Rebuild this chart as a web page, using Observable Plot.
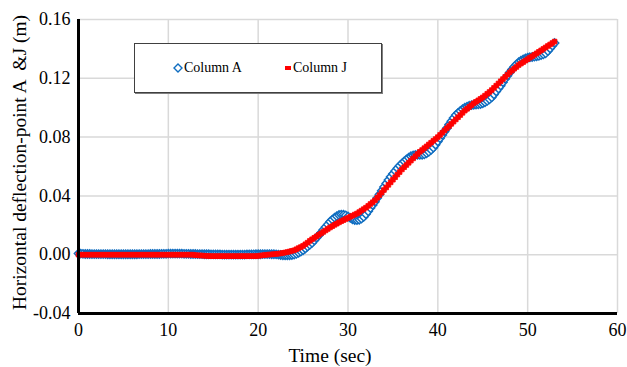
<!DOCTYPE html>
<html>
<head>
<meta charset="utf-8">
<script src="https://cdn.jsdelivr.net/npm/d3@7"></script>
<script src="https://cdn.jsdelivr.net/npm/@observablehq/plot@0.6"></script>
<style>
  html, body { margin: 0; padding: 0; background: #fff; }
  #wrap { position: relative; width: 627px; height: 367px; font-family: "Liberation Serif", "Times New Roman", serif; }
  #legend { position: absolute; left: 134px; top: 43px; width: 246px; height: 48px; border: 1px solid #404040;
            box-shadow: 1px 1px 0 #7f7f7f; background: #fff; font-size: 14px; color: #000; }
  .item { position: absolute; top: 16px; white-space: nowrap; line-height: 16px; }
  .item svg { vertical-align: -1px; margin-right: 1px; }
</style>
</head>
<body>
<div id="wrap"></div>
<script>
// ---- data ----
const seriesNames = ["Column A", "Column J"];
const xTicks = [0, 10, 20, 30, 40, 50, 60];
const yTicks = [-0.04, 0.00, 0.04, 0.08, 0.12, 0.16];

const time = [
0,0.25,0.5,0.75, 1,1.25,1.5,1.75, 2,2.25,2.5,2.75, 3,3.25,3.5,3.75, 4,4.25,4.5,4.75,
5,5.25,5.5,5.75, 6,6.25,6.5,6.75, 7,7.25,7.5,7.75, 8,8.25,8.5,8.75, 9,9.25,9.5,9.75,
10,10.25,10.5,10.75, 11,11.25,11.5,11.75, 12,12.25,12.5,12.75, 13,13.25,13.5,13.75, 14,14.25,14.5,14.75,
15,15.25,15.5,15.75, 16,16.25,16.5,16.75, 17,17.25,17.5,17.75, 18,18.25,18.5,18.75, 19,19.25,19.5,19.75,
20,20.25,20.5,20.75, 21,21.25,21.5,21.75, 22,22.25,22.5,22.75, 23,23.25,23.5,23.75, 24,24.25,24.5,24.75,
25,25.25,25.5,25.75, 26,26.25,26.5,26.75, 27,27.25,27.5,27.75, 28,28.25,28.5,28.75, 29,29.25,29.5,29.75,
30,30.25,30.5,30.75, 31,31.25,31.5,31.75, 32,32.25,32.5,32.75, 33,33.25,33.5,33.75, 34,34.25,34.5,34.75,
35,35.25,35.5,35.75, 36,36.25,36.5,36.75, 37,37.25,37.5,37.75, 38,38.25,38.5,38.75, 39,39.25,39.5,39.75,
40,40.25,40.5,40.75, 41,41.25,41.5,41.75, 42,42.25,42.5,42.75, 43,43.25,43.5,43.75, 44,44.25,44.5,44.75,
45,45.25,45.5,45.75, 46,46.25,46.5,46.75, 47,47.25,47.5,47.75, 48,48.25,48.5,48.75, 49,49.25,49.5,49.75,
50,50.25,50.5,50.75, 51,51.25,51.5,51.75, 52,52.25,52.5,52.75, 53
];

const columnA = [
0.0008,0.0007,0.0006,0.0005, 0.0005,0.0005,0.0004,0.0004, 0.0004,0.0004,0.0004,0.0004, 0.0004,0.0003,0.0003,0.0003,
0.0003,0.0003,0.0003,0.0003, 0.0003,0.0003,0.0003,0.0003, 0.0003,0.0003,0.0003,0.0004, 0.0004,0.0004,0.0004,0.0004,
0.0005,0.0005,0.0005,0.0005, 0.0005,0.0006,0.0006,0.0006, 0.0007,0.0007,0.0007,0.0007, 0.0007,0.0007,0.0007,0.0006,
0.0006,0.0006,0.0005,0.0005, 0.0005,0.0004,0.0004,0.0004, 0.0003,0.0003,0.0003,0.0002, 0.0002,0.0002,0.0002,0.0002,
0.0001,0.0001,0.0001,0.0001, 0.0001,0.0001,0.0001,0.0001, 0.0001,0.0001,0.0001,0.0002, 0.0002,0.0002,0.0002,0.0003,
0.0003,0.0003,0.0004,0.0004, 0.0004,0.0004,0.0003,0.0003,
0.0002,0.0000,-0.0002,-0.0004, -0.0005,-0.0005,-0.0004,-0.0002, 0.0000,0.0006,0.0013,0.0021,
0.0030,0.0042,0.0055,0.0067, 0.0080,0.0097,0.0115,0.0132, 0.0150,0.0169,0.0188,0.0206,
0.0225,0.0239,0.0252,0.0262, 0.0270,0.0273,0.0272,0.0268, 0.0260,0.0250,0.0241,0.0236,
0.0235,0.0238,0.0245,0.0257, 0.0275,0.0295,0.0317,0.0338, 0.0360,0.0385,0.0410,0.0435,
0.0460,0.0485,0.0508,0.0530, 0.0550,0.0570,0.0588,0.0605, 0.0620,0.0635,0.0648,0.0660,
0.0670,0.0675,0.0678,0.0680, 0.0680,0.0680,0.0683,0.0690, 0.0700,0.0713,0.0728,0.0748,
0.0770,0.0792,0.0815,0.0838, 0.0860,0.0885,0.0908,0.0930, 0.0950,0.0965,0.0978,0.0990,
0.1000,0.1007,0.1013,0.1017, 0.1020,0.1022,0.1023,0.1025, 0.1030,0.1037,0.1046,0.1057,
0.1070,0.1090,0.1110,0.1130, 0.1150,0.1173,0.1196,0.1218, 0.1240,0.1260,0.1278,0.1295,
0.1310,0.1320,0.1328,0.1335, 0.1340,0.1343,0.1345,0.1347, 0.1350,0.1353,0.1358,0.1363,
0.1370,0.1385,0.1403,0.1422, 0.1440
];

const columnJ = [
0,0,0,0, 0,0,0,0, 0,0,0,0, 0,0,0,0, 0,0,0,0, 0,0,0,0, 0,0,0,0, 0,0,0,0,
0,0,0,0, 0,0,0,0, 0,0,0,0, 0,0,0,0, 0,0,0,0,
-0.0003,-0.0004,-0.0005,-0.0006, -0.0007,-0.0008,-0.0009,-0.0010,
-0.0010,-0.0010,-0.0010,-0.0010, -0.0010,-0.0010,-0.0010,-0.0010, -0.0010,-0.0010,-0.0010,-0.0010,
-0.0010,-0.0010,-0.0010,-0.0010, -0.0010,-0.0010,-0.0010,-0.0010,
-0.0008,-0.0006,-0.0004,-0.0002, 0.0000,0.0001,0.0002,0.0004,
0.0005,0.0007,0.0009,0.0012, 0.0015,0.0018,0.0022,0.0026, 0.0030,0.0037,0.0045,0.0052,
0.0060,0.0071,0.0082,0.0094, 0.0105,0.0115,0.0125,0.0135, 0.0145,0.0155,0.0165,0.0175,
0.0185,0.0194,0.0203,0.0211, 0.0220,0.0228,0.0235,0.0243, 0.0250,0.0258,0.0265,0.0273,
0.0280,0.0290,0.0300,0.0310, 0.0320,0.0332,0.0345,0.0357, 0.0370,0.0387,0.0405,0.0422,
0.0440,0.0457,0.0475,0.0492, 0.0510,0.0527,0.0545,0.0562, 0.0580,0.0595,0.0610,0.0625,
0.0640,0.0655,0.0670,0.0685, 0.0700,0.0712,0.0725,0.0737, 0.0750,0.0762,0.0775,0.0787,
0.0800,0.0815,0.0830,0.0845, 0.0860,0.0875,0.0890,0.0905, 0.0920,0.0935,0.0950,0.0965,
0.0980,0.0992,0.1005,0.1017, 0.1030,0.1040,0.1050,0.1060, 0.1070,0.1082,0.1095,0.1107,
0.1120,0.1135,0.1150,0.1165, 0.1180,0.1195,0.1210,0.1225, 0.1240,0.1252,0.1265,0.1277,
0.1290,0.1300,0.1310,0.1320, 0.1330,0.1340,0.1350,0.1360, 0.1370,0.1380,0.1390,0.1400,
0.1410,0.1420,0.1430,0.1440, 0.1450
];

const colors = { A: "#0f6dc0", J: "#ff0000" };

const dataA = time.map((t, i) => ({ t, v: columnA[i] }));
const dataJ = time.map((t, i) => ({ t, v: columnJ[i] }));

const chart = Plot.plot({
  width: 627,
  height: 367,
  marginLeft: 78,
  marginRight: 10,
  marginTop: 19,
  marginBottom: 54,
  x: { domain: [0, 60] },
  y: { domain: [-0.04, 0.16] },
  style: { fontFamily: "'Liberation Serif', 'Times New Roman', serif", fontSize: "18px", color: "#000", background: "#fff", overflow: "visible" },
  marks: [
    Plot.gridX(xTicks, { stroke: "#d9d9d9", strokeOpacity: 1, strokeWidth: 1.5 }),
    Plot.gridY(yTicks, { stroke: "#d9d9d9", strokeOpacity: 1, strokeWidth: 1.5 }),
    Plot.dot(dataA, { x: "t", y: "v", symbol: "diamond2", r: 3.7, stroke: colors.A, fill: "white", strokeWidth: 1.5 }),
    Plot.dot(dataJ, { x: "t", y: "v", symbol: "square", r: 2.6, fill: colors.J, stroke: colors.J, strokeWidth: 0.8 }),
    Plot.ruleX([0], { stroke: "#000", strokeWidth: 3 }),
    Plot.ruleY([-0.04], { stroke: "#000", strokeWidth: 3 }),
    Plot.axisX(xTicks, { tickSize: 0, tickPadding: 10, label: null, fontSize: 18 }),
    Plot.axisY(yTicks, { tickSize: 0, tickPadding: 8, label: null, fontSize: 18, tickFormat: d => d.toFixed(2) })
  ]
});

const wrap = document.getElementById("wrap");
wrap.appendChild(chart);

const svg = d3.select(chart);
svg.append("text")
  .attr("transform", "translate(25.5,162.5) rotate(-90)")
  .attr("text-anchor", "middle")
  .attr("font-size", "19.5px")
  .attr("fill", "#000")
  .style("white-space", "pre")
  .attr("xml:space", "preserve")
  .text("Horizontal deflection-point A  &J (m)");
svg.append("text")
  .attr("x", 330)
  .attr("y", 362)
  .attr("text-anchor", "middle")
  .attr("font-size", "19.5px")
  .attr("fill", "#000")
  .text("Time (sec)");

// legend
const legend = document.createElement("div");
legend.id = "legend";
legend.innerHTML =
  `<div class="item" style="left:38px"><svg width="10" height="10"><path d="M5,1 L9,5 L5,9 L1,5 Z" fill="#fff" stroke="${colors.A}" stroke-width="1.4"/></svg>${seriesNames[0]}</div>` +
  `<div class="item" style="left:149px"><svg width="8" height="10"><rect x="1" y="3" width="6" height="4" fill="${colors.J}"/></svg>${seriesNames[1]}</div>`;
wrap.appendChild(legend);
</script>
</body>
</html>
